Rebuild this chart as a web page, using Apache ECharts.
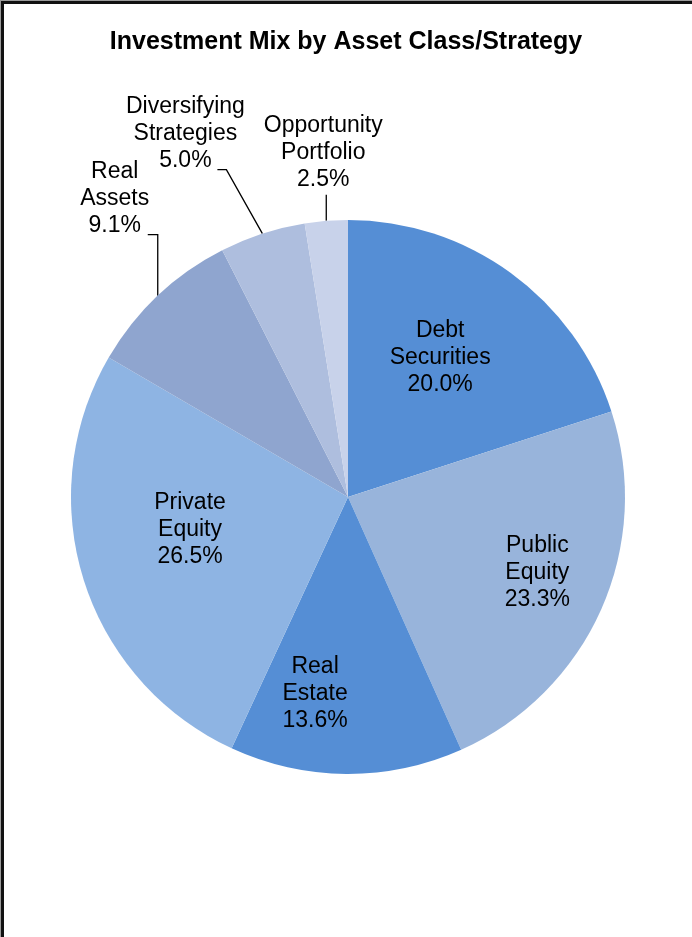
<!DOCTYPE html>
<html>
<head>
<meta charset="utf-8">
<script src="https://cdn.jsdelivr.net/npm/echarts@6/dist/echarts.min.js"></script>
<style>
  html, body { margin: 0; padding: 0; background: #fff; }
  #frame {
    position: absolute; left: 1px; top: 1px; width: 740px; height: 990px;
    border-left: 3px solid #111; border-top: 3px solid #111;
    box-shadow: -1px -1px 0 #9a9a9a;
  }
  #chart { position: absolute; left: 0; top: 0; width: 692px; height: 937px; }
</style>
</head>
<body>
<div id="frame"></div>
<div id="chart"></div>
<script>
// Portfolio allocation, in percent of total assets
const titleText = 'Investment Mix by Asset Class/Strategy';
const categories = [
  'Debt Securities',
  'Public Equity',
  'Real Estate',
  'Private Equity',
  'Real Assets',
  'Diversifying Strategies',
  'Opportunity Portfolio'
];
const shares = [20.0, 23.3, 13.6, 26.5, 9.1, 5.0, 2.5];

// Slice fills, in category order
const sliceColors = ['#558ED5', '#98B4DB', '#558ED5', '#8EB4E3', '#8FA5CF', '#AEBEDE', '#C8D2EA'];

// Small slices get their labels outside, tied back with a bent leader line.
// elbow: offset of the bend from the slice edge; run: horizontal stub after the bend;
// text: offset of the label centre from the slice edge.
const outsideGuides = {
  'Real Assets':             { elbow: [0, -61],   run: -10, text: [-43, -97] },
  'Diversifying Strategies': { elbow: [-36, -64], run: -9,  text: [-77, -100] },
  'Opportunity Portfolio':   { elbow: [0, -26],   run: 0,   text: [-3, -68] }
};
// Nudges applied to the library's default inside label position
const insideNudge = {
  'Debt Securities': [9, -25],
  'Public Equity':   [60, 18],
  'Real Estate':     [-32, 55],
  'Private Equity':  [-23, -10]
};

const FONT = "'Liberation Sans', Arial, Helvetica, sans-serif";

const pieData = categories.map(function (name, i) {
  const item = { name: name, value: shares[i], itemStyle: { color: sliceColors[i] } };
  if (outsideGuides[name]) {
    item.label = { position: 'outside' };
    item.labelLine = { show: true };
  }
  return item;
});

const chart = echarts.init(document.getElementById('chart'), null, { renderer: 'canvas' });

chart.setOption({
  backgroundColor: 'transparent',
  animation: false,
  title: {
    text: titleText,
    left: 'center',
    top: 25,
    textStyle: { fontFamily: FONT, fontSize: 25, fontWeight: 'bold', color: '#000' }
  },
  series: [{
    type: 'pie',
    center: [348, 497],
    radius: [0, 277],
    startAngle: 90,
    clockwise: true,
    avoidLabelOverlap: false,
    silent: true,
    data: pieData,
    label: {
      show: true,
      position: 'inside',
      fontFamily: FONT,
      fontSize: 23,
      lineHeight: 27,
      color: '#000',
      align: 'center',
      formatter: function (p) {
        return p.name.replace(' ', '\n') + '\n' + p.value.toFixed(1) + '%';
      }
    },
    labelLine: {
      show: false,
      smooth: false,
      lineStyle: { color: '#000', width: 1.3 }
    },
    emphasis: { disabled: true },
    labelLayout: function (params) {
      const name = categories[params.dataIndex];
      const rect = params.labelRect;
      const guide = outsideGuides[name];
      if (guide && params.labelLinePoints) {
        const p0 = params.labelLinePoints[0];
        const edge = [p0[0], p0[1]];
        const elbow = [edge[0] + guide.elbow[0], edge[1] + guide.elbow[1]];
        const end = [elbow[0] + guide.run, elbow[1]];
        return {
          x: edge[0] + guide.text[0],
          y: edge[1] + guide.text[1],
          align: 'center',
          verticalAlign: 'middle',
          labelLinePoints: [edge, elbow, end]
        };
      }
      const n = insideNudge[name] || [0, 0];
      return {
        x: rect.x + rect.width / 2 + n[0],
        y: rect.y + rect.height / 2 + n[1],
        align: 'center',
        verticalAlign: 'middle'
      };
    }
  }]
});
</script>
</body>
</html>
